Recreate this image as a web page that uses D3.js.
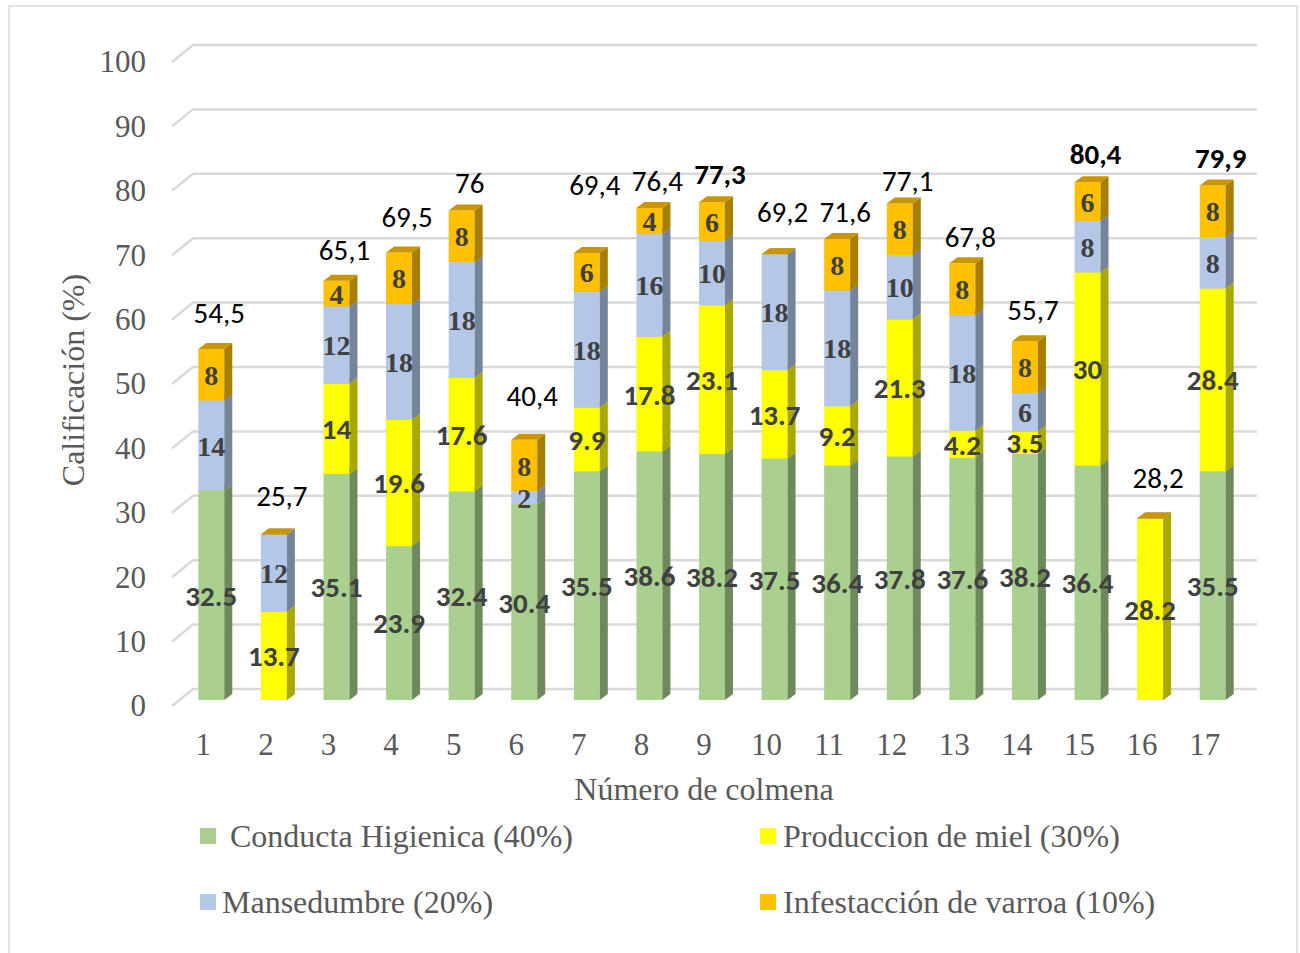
<!DOCTYPE html>
<html>
<head>
<meta charset="utf-8">
<script src="https://cdn.jsdelivr.net/npm/d3@7"></script>
<style>
  body { margin: 0; background: #fff; }
  #chart { width: 1300px; height: 953px; }
</style>
</head>
<body>
<div id="chart"></div>
<script>
// ---- data ----
const hives = ["1","2","3","4","5","6","7","8","9","10","11","12","13","14","15","16","17"];
const conducta   = [32.5, 0, 35.1, 23.9, 32.4, 30.4, 35.5, 38.6, 38.2, 37.5, 36.4, 37.8, 37.6, 38.2, 36.4, 0, 35.5];
const produccion = [0, 13.7, 14, 19.6, 17.6, 0, 9.9, 17.8, 23.1, 13.7, 9.2, 21.3, 4.2, 3.5, 30, 28.2, 28.4];
const mansedumbre = [14, 12, 12, 18, 18, 2, 18, 16, 10, 18, 18, 10, 18, 6, 8, 0, 8];
const varroa     = [8, 0, 4, 8, 8, 8, 6, 4, 6, 0, 8, 8, 8, 8, 6, 0, 8];
const totalLabels = ["54,5","25,7","65,1","69,5","76","40,4","69,4","76,4","77,3","69,2","71,6","77,1","67,8","55,7","80,4","28,2","79,9"];
const boldTotals = ["77,3","80,4","79,9"];
const yTicks = [0,10,20,30,40,50,60,70,80,90,100];

// hand-placed total text boxes: lift above bar top (value units)
const labelLift = [5.6,6.1,4.8,5.5,4.4,6.8,10.7,4.3,4.5,6.7,4.3,3.6,4.2,4.9,4.4,6.4,4.3];

const series = [
  { name: "Conducta Higienica (40%)", values: conducta, front: "#A9D08E", side: "#6E8A5C", top: "#8FB077", labelFont: "sans" },
  { name: "Produccion de miel (30%)", values: produccion, front: "#FFFF00", side: "#A8A800", top: "#D4D400", labelFont: "sans" },
  { name: "Mansedumbre (20%)", values: mansedumbre, front: "#B4C7E7", side: "#76849A", top: "#8E9DB7", labelFont: "serif" },
  { name: "Infestacción de varroa (10%)", values: varroa, front: "#FFC000", side: "#A67E00", top: "#C99500", labelFont: "serif" }
];

// ---- layout ----
const W = 1300, H = 953;
const depthX = 21, depthY = -17;       // floor depth (front -> back wall)
const barOffX = 8, barOffY = -6;       // bar front face inside the floor
const barDX = 8, barDY = -6;           // bar thickness
const sansFont = "Carlito, Calibri, 'Liberation Sans', Arial, sans-serif";

const svg = d3.select("#chart").append("svg")
  .attr("width", W).attr("height", H)
  .style("font-family", "'Liberation Serif', 'Times New Roman', serif");

// outer border
svg.append("rect")
  .attr("x", 9).attr("y", 6).attr("width", 1288).attr("height", 960)
  .attr("fill", "none").attr("stroke", "#D9D9D9").attr("stroke-width", 1.5);

const x = d3.scaleBand().domain(hives).range([172, 1236])
  .paddingInner(0.585).paddingOuter(0.2925);
const y = d3.scaleLinear().domain([0, 100]).range([706, 62]);

// gridlines (floor diagonal + back wall)
const grid = svg.append("g");
yTicks.forEach(t => {
  grid.append("path")
    .attr("d", `M172,${y(t)}L${172 + depthX},${y(t) + depthY}L${1236 + depthX},${y(t) + depthY}`)
    .attr("fill", "none").attr("stroke", "#D9D9D9").attr("stroke-width", 2.5);
});

// y axis labels
const yAxis = svg.append("g")
  .attr("transform", "translate(160,0)")
  .call(d3.axisLeft(y).tickValues(yTicks).tickSize(0).tickPadding(14));
yAxis.select(".domain").remove();
yAxis.selectAll("text")
  .attr("font-family", "'Liberation Serif', serif")
  .attr("font-size", 31).attr("fill", "#595959");

// x axis labels
const xAxis = svg.append("g")
  .attr("transform", "translate(0,727)")
  .call(d3.axisBottom(x).tickSize(0).tickPadding(6));
xAxis.select(".domain").remove();
xAxis.selectAll("text")
  .attr("font-family", "'Liberation Serif', serif")
  .attr("font-size", 31).attr("fill", "#595959");

// axis titles
svg.append("text")
  .attr("x", 704).attr("y", 800).attr("text-anchor", "middle")
  .attr("font-size", 32).attr("fill", "#595959")
  .text("Número de colmena");
svg.append("text")
  .attr("transform", "translate(84,380) rotate(-90)")
  .attr("text-anchor", "middle")
  .attr("font-size", 32).attr("fill", "#595959")
  .text("Calificación (%)");

// stacked 3D bars
const stackData = hives.map((h, i) => {
  const row = { hive: h };
  series.forEach((s, k) => row["s" + k] = s.values[i]);
  return row;
});
const stack = d3.stack().keys(series.map((s, k) => "s" + k))(stackData);

const bars = svg.append("g");
const bw = x.bandwidth();
hives.forEach((h, i) => {
  const x0 = x(h) + barOffX;
  stack.forEach((layer, k) => {
    const s = series[k];
    const v0 = layer[i][0], v1 = layer[i][1];
    const yb = y(v0) + barOffY, yt = y(v1) + barOffY;
    const g = bars.append("g");
    // front
    g.append("rect").attr("x", x0).attr("y", yt).attr("width", bw).attr("height", yb - yt)
      .attr("fill", s.front);
    // side
    g.append("path")
      .attr("d", `M${x0 + bw},${yb}L${x0 + bw + barDX},${yb + barDY}L${x0 + bw + barDX},${yt + barDY}L${x0 + bw},${yt}Z`)
      .attr("fill", s.side);
    // top
    g.append("path")
      .attr("d", `M${x0},${yt}L${x0 + barDX},${yt + barDY}L${x0 + bw + barDX},${yt + barDY}L${x0 + bw},${yt}Z`)
      .attr("fill", s.top);
  });
});

// segment labels
const segLabels = svg.append("g");
hives.forEach((h, i) => {
  const cx = x(h) + barOffX + bw / 2;
  stack.forEach((layer, k) => {
    const s = series[k];
    const val = s.values[i];
    if (!val) return;
    const mid = (layer[i][0] + layer[i][1]) / 2;
    const isSans = s.labelFont === "sans";
    segLabels.append("text")
      .attr("x", cx).attr("y", y(mid) + barOffY)
      .attr("dy", "0.36em")
      .attr("text-anchor", "middle")
      .attr("font-family", isSans ? sansFont : "'Liberation Serif', serif")
      .attr("font-weight", "bold")
      .attr("font-size", isSans ? 29 : 28)
      .attr("fill", "#404040")
      .text(String(val));
  });
});

// totals
const totals = svg.append("g");
hives.forEach((h, i) => {
  const top = stack[stack.length - 1][i][1];
  const lbl = totalLabels[i];
  totals.append("text")
    .attr("x", x(h) + barOffX + bw / 2 + 8)
    .attr("y", y(top + labelLift[i]) + barOffY)
    .attr("dy", "0.36em")
    .attr("text-anchor", "middle")
    .attr("font-family", sansFont)
    .attr("font-size", 29)
    .attr("font-weight", boldTotals.includes(lbl) ? "bold" : "normal")
    .attr("fill", "#000")
    .text(lbl);
});

// legend
const legendPos = [
  { sx: 200, tx: 230, y: 836 },
  { sx: 760, tx: 783, y: 836 },
  { sx: 200, tx: 222, y: 902 },
  { sx: 760, tx: 783, y: 902 }
];
const legend = svg.append("g");
series.forEach((s, k) => {
  const p = legendPos[k];
  legend.append("rect")
    .attr("x", p.sx).attr("y", p.y - 8).attr("width", 16).attr("height", 16)
    .attr("fill", s.front);
  legend.append("text")
    .attr("x", p.tx).attr("y", p.y).attr("dy", "0.35em")
    .attr("font-size", 32).attr("fill", "#595959")
    .text(s.name);
});
</script>
</body>
</html>
